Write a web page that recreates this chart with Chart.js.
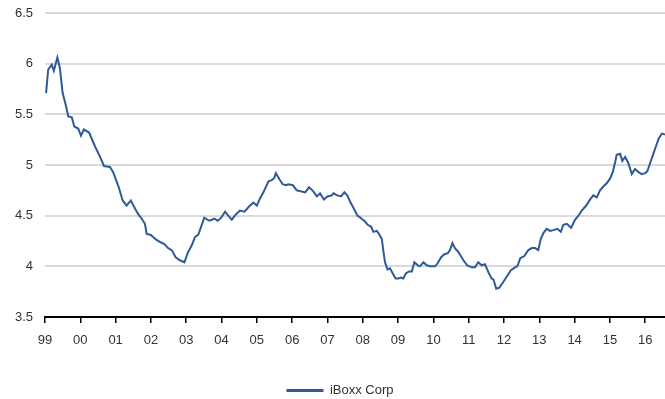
<!DOCTYPE html>
<html>
<head>
<meta charset="utf-8">
<script src="https://cdn.jsdelivr.net/npm/chart.js@4"></script>
<style>
  html, body { margin: 0; padding: 0; background: #fff; }
  #wrap { width: 665px; height: 399px; position: relative; }
</style>
</head>
<body>
<div id="wrap"><canvas id="c" width="665" height="399"></canvas></div>
<script>
const seriesName = "iBoxx Corp";
const dates = [
  1999.03,1999.09,1999.19,1999.25,1999.35,1999.42,1999.50,1999.59,1999.66,1999.76,1999.83,1999.94,
  2000.02,2000.10,2000.25,2000.42,2000.56,2000.67,2000.84,2000.93,
  2001.08,2001.20,2001.31,2001.43,2001.55,2001.63,2001.74,2001.83,2001.88,
  2002.00,2002.12,2002.26,2002.38,2002.49,2002.59,2002.70,2002.82,2002.95,
  2003.04,2003.16,2003.25,2003.34,2003.42,2003.51,2003.65,2003.80,2003.89,2003.99,
  2004.10,2004.19,2004.29,2004.40,2004.52,2004.65,2004.78,2004.90,
  2005.00,2005.09,2005.20,2005.33,2005.42,2005.49,2005.54,2005.64,2005.73,2005.83,2005.89,
  2006.02,2006.13,2006.24,2006.37,2006.48,2006.60,2006.70,2006.79,2006.90,
  2007.00,2007.12,2007.17,2007.28,2007.38,2007.48,2007.56,2007.64,2007.73,2007.85,2007.97,
  2008.07,2008.14,2008.24,2008.30,2008.40,2008.46,2008.54,2008.58,2008.63,2008.70,2008.77,2008.85,2008.93,
  2009.01,2009.08,2009.15,2009.22,2009.31,2009.39,2009.46,2009.56,2009.62,2009.72,2009.81,2009.91,
  2010.05,2010.12,2010.22,2010.31,2010.41,2010.47,2010.54,2010.61,2010.71,2010.80,2010.85,2010.96,
  2011.09,2011.18,2011.27,2011.37,2011.46,2011.56,2011.65,2011.70,2011.78,2011.87,2011.97,
  2012.08,2012.19,2012.31,2012.38,2012.46,2012.57,2012.69,2012.79,2012.88,2012.97,
  2013.04,2013.12,2013.21,2013.31,2013.42,2013.51,2013.61,2013.68,2013.78,2013.90,
  2014.01,2014.11,2014.20,2014.33,2014.44,2014.53,2014.63,2014.72,2014.82,2014.91,
  2015.01,2015.08,2015.15,2015.19,2015.29,2015.35,2015.43,2015.52,2015.62,2015.71,2015.81,2015.90,
  2016.00,2016.06,2016.14,2016.23,2016.31,2016.38,2016.47,2016.56
];
const yields = [
  5.71,5.94,5.99,5.93,6.06,5.96,5.71,5.59,5.48,5.47,5.38,5.36,
  5.29,5.35,5.32,5.18,5.08,4.99,4.98,4.93,
  4.79,4.65,4.60,4.65,4.57,4.52,4.47,4.42,4.32,
  4.31,4.27,4.24,4.22,4.18,4.16,4.09,4.06,4.04,
  4.13,4.21,4.29,4.31,4.39,4.48,4.45,4.47,4.45,4.48,
  4.54,4.50,4.46,4.51,4.55,4.54,4.59,4.63,
  4.60,4.67,4.74,4.84,4.85,4.87,4.92,4.86,4.81,4.80,4.81,
  4.80,4.75,4.74,4.73,4.78,4.74,4.69,4.72,4.66,
  4.69,4.70,4.72,4.70,4.69,4.73,4.70,4.64,4.58,4.50,4.47,
  4.44,4.41,4.39,4.34,4.35,4.32,4.27,4.16,4.04,3.97,3.98,3.93,3.88,
  3.88,3.89,3.88,3.93,3.95,3.95,4.04,4.01,4.00,4.04,4.01,4.00,
  4.00,4.03,4.09,4.12,4.13,4.16,4.23,4.18,4.14,4.09,4.06,4.01,
  3.99,3.99,4.04,4.01,4.02,3.94,3.88,3.87,3.78,3.79,3.84,
  3.90,3.96,3.99,4.00,4.08,4.10,4.16,4.18,4.18,4.16,
  4.27,4.33,4.37,4.35,4.36,4.37,4.34,4.41,4.42,4.38,
  4.46,4.50,4.55,4.60,4.66,4.70,4.68,4.75,4.79,4.82,
  4.87,4.93,5.03,5.10,5.11,5.04,5.08,5.02,4.91,4.96,4.93,4.91,
  4.92,4.94,5.02,5.11,5.19,5.26,5.31,5.30
];
const yearTicks = [1999,2000,2001,2002,2003,2004,2005,2006,2007,2008,2009,2010,2011,2012,2013,2014,2015,2016];
const yMin = 3.5, yMax = 6.5, yStep = 0.5;

const points = dates.map((d, i) => ({ x: d, y: yields[i] }));
const lineColor = '#2f5b95';
const textColor = '#333333';
const fontFamily = 'Liberation Sans, Arial, sans-serif';

new Chart(document.getElementById('c'), {
  type: 'line',
  data: {
    datasets: [{
      label: seriesName,
      data: points,
      borderColor: lineColor,
      backgroundColor: lineColor,
      borderWidth: 2,
      pointRadius: 0,
      tension: 0,
      fill: false,
      clip: false
    }]
  },
  options: {
    responsive: false,
    animation: false,
    devicePixelRatio: 1,
    layout: { padding: { top: 13, right: 0, left: 15, bottom: -8 } },
    plugins: {
      tooltip: { enabled: false },
      legend: {
        display: true,
        position: 'bottom',
        labels: {
          color: textColor,
          font: { family: fontFamily, size: 13 },
          usePointStyle: true,
          pointStyle: 'line',
          boxWidth: 37,
          pointStyleWidth: 37,
          padding: 2,
          generateLabels: (chart) => [{
            text: seriesName,
            strokeStyle: lineColor,
            fillStyle: lineColor,
            lineWidth: 3,
            pointStyle: 'line',
            datasetIndex: 0,
            fontColor: textColor
          }]
        }
      }
    },
    scales: {
      x: {
        type: 'linear',
        min: 1999,
        max: 2016.56,
        afterBuildTicks: (scale) => { scale.ticks = yearTicks.map(v => ({ value: v })); },
        afterFit: (scale) => { scale.height = 65; },
        grid: {
          drawOnChartArea: false,
          drawTicks: true,
          tickLength: 6,
          color: '#000000',
          lineWidth: 1.5
        },
        border: { display: true, color: '#000000', width: 2 },
        ticks: {
          autoSkip: false,
          maxRotation: 0,
          padding: 10,
          color: textColor,
          font: { family: fontFamily, size: 13 },
          callback: (v) => String(v % 100).padStart(2, '0')
        }
      },
      y: {
        min: yMin,
        max: yMax,
        afterFit: (scale) => { scale.width = 30; },
        grid: {
          drawTicks: true,
          tickLength: 12,
          tickColor: 'rgba(0,0,0,0)',
          color: '#d9d9d9',
          lineWidth: 2
        },
        border: { display: false },
        ticks: {
          stepSize: yStep,
          padding: 0,
          color: textColor,
          font: { family: fontFamily, size: 13 },
          callback: (v) => String(Math.round(v * 10) / 10)
        }
      }
    }
  }
});
</script>
</body>
</html>
